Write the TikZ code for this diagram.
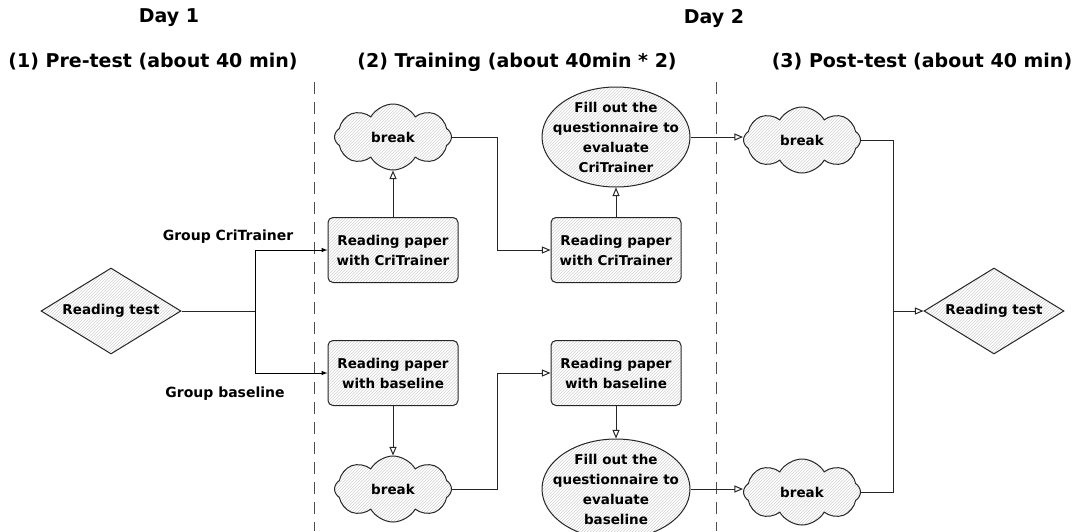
\documentclass[tikz,border=0pt]{standalone}
\usepackage{fontspec}
\setmainfont{DejaVu Sans}
\usetikzlibrary{shapes, arrows, positioning, patterns}
\tikzstyle{rayado} = [draw=black!85, line width=1pt, pattern=north east lines, pattern color=gray!35]
\tikzstyle{caja} = [rayado, rectangle, rounded corners=5pt, minimum width=130pt, minimum height=65pt, align=center, font=\fontsize{13.5}{20}\selectfont\bfseries]
\tikzstyle{nube} = [rayado, cloud, cloud puffs=8, cloud puff arc=120, aspect=1.6, inner sep=0pt, minimum width=117pt, minimum height=66pt, font=\fontsize{13.5}{20}\selectfont\bfseries]
\tikzstyle{elipse} = [rayado, ellipse, minimum width=148pt, minimum height=100pt, inner xsep=-14pt, inner ysep=-10pt, align=center, font=\fontsize{13.5}{20}\selectfont\bfseries]
\tikzstyle{rombo} = [rayado, diamond, aspect=1.63, minimum width=140pt, minimum height=86pt, inner sep=0pt, font=\fontsize{13.5}{20}\selectfont\bfseries]
\tikzstyle{titulo} = [font=\fontsize{19}{22}\selectfont\bfseries]
\tikzstyle{grupo} = [font=\fontsize{14}{16}\selectfont\bfseries]
\tikzstyle{linea} = [draw=black!85, line width=1pt]
\tikzstyle{flecha} = [linea, ->, >=open triangle 45]
\tikzstyle{rama} = [draw=black, line width=1pt, -latex]
\tikzstyle{separador} = [draw=black!70, thick, dash pattern=on 12pt off 8pt]

\begin{document}
\begin{tikzpicture}[x=1pt, y=-1pt]
	\useasboundingbox (0,0) rectangle (1079,531);
	% titulos
	\node[titulo] (dia1) at (169,18) {Day 1};
	\node[titulo] (dia2) at (714,18) {Day 2};
	\node[titulo] (fase1) at (153,62) {(1) Pre-test (about 40 min)};
	\node[titulo] (fase2) at (517,62) {(2) Training (about 40min * 2)};
	\node[titulo] (fase3) at (922,62) {(3) Post-test (about 40 min)};
	\draw[separador] (314,82) -- (314,531);
	\draw[separador] (716,82) -- (716,531);
	% nodos
	\node[rombo] (test1) at (111,311) {Reading test};
	\node[caja] (cri1) at (393,250) {Reading paper\\with CriTrainer};
	\node[nube] (pausa1) at (393,137) {break};
	\node[caja] (cri2) at (616,250) {Reading paper\\with CriTrainer};
	\node[elipse] (eval1) at (616,137) {Fill out the\\questionnaire to\\evaluate\\CriTrainer};
	\node[nube] (pausa3) at (802,140) {break};
	\node[caja] (base1) at (393,373) {Reading paper\\with baseline};
	\node[nube] (pausa2) at (393,489) {break};
	\node[caja] (base2) at (616,373) {Reading paper\\with baseline};
	\node[elipse] (eval2) at (616,489) {Fill out the\\questionnaire to\\evaluate\\baseline};
	\node[nube] (pausa4) at (802,492) {break};
	\node[rombo] (test2) at (994,311) {Reading test};
	\node[grupo] (gcri) at (228,237) {Group CriTrainer};
	\node[grupo] (gbase) at (225,394) {Group baseline};
	% conexiones
	\coordinate (split) at (255,311);
	\coordinate (join) at (893,311);
	\draw[linea] (test1.east) -- (split);
	\draw[rama] (split) |- (cri1.west);
	\draw[rama] (split) |- (base1.west);
	\draw[flecha] (cri1.north) -- (pausa1.south);
	\draw[flecha] (pausa1.east) -- ++(45,0) |- (cri2.west);
	\draw[flecha] (cri2.north) -- (eval1.south);
	\draw[flecha] (eval1.east) -- (pausa3.west |- eval1.east);
	\draw[flecha] (base1.south) -- (pausa2.north);
	\draw[flecha] (pausa2.east) -- ++(45,0) |- (base2.west);
	\draw[flecha] (base2.south) -- (eval2.north);
	\draw[flecha] (eval2.east) -- (pausa4.west |- eval2.east);
	\draw[linea] (pausa3.east) -| (join);
	\draw[linea] (pausa4.east) -| (join);
	\draw[flecha] (join) -- (test2.west);
\end{tikzpicture}
\end{document}
